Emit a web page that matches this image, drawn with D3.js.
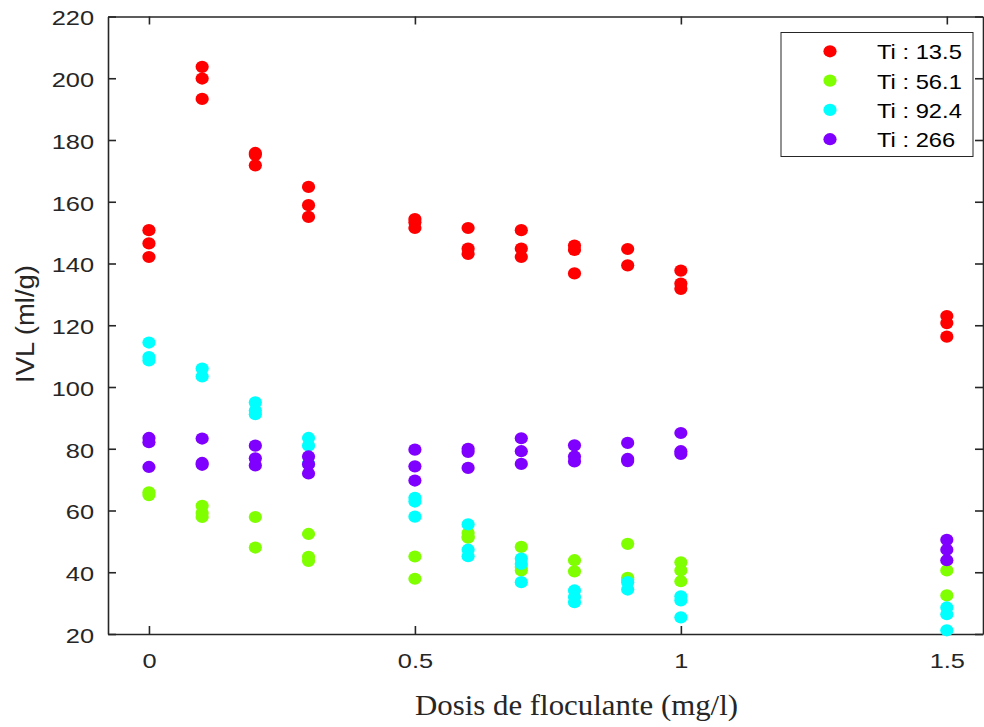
<!DOCTYPE html>
<html><head><meta charset="utf-8">
<script src="https://cdn.jsdelivr.net/npm/d3@7"></script>
<style>body{margin:0;background:#fff}</style>
</head><body>
<svg id="c" width="984" height="727"></svg>
<script>
const doses = [0, 0.1, 0.2, 0.3, 0.5, 0.6, 0.7, 0.8, 0.9, 1.0, 1.5];
const seriesNames = ["Ti : 13.5", "Ti : 56.1", "Ti : 92.4", "Ti : 266"];
const seriesColors = ["#ff0000", "#80ff00", "#00ffff", "#8000ff"];
const ti13 = [[150.8,146.5,142.1],[203.7,199.9,193.3],[175.8,175.2,171.8],[164.8,158.9,155.1],[154.4,153.4,151.5],[151.5,144.8,143.1],[150.8,144.8,142.1],[145.8,144.4,136.8],[144.7,139.4],[137.7,133.5,131.8],[123,120.7,116.3]];
const ti56 = [[65.9,65.0],[61.5,59.2,57.9],[57.9,48.0],[52.4,45.0,43.7],[45.1,37.9],[52.7,51.5,51.2],[48.2,41.7,40.6],[43.9,40.3],[49.2,38.2,37.6],[43.2,40.6,37.1],[40.6,32.5]];
const ti92 = [[114.4,109.7,108.6],[106.0,103.4],[95.0,92.4,91.2],[83.5,81.0,75.2],[64.1,62.9,58.0],[55.5,47.3,45.2],[44.4,42.7,36.8],[34.1,32.0,30.3],[36.8,34.4],[32.2,30.9,25.4],[28.6,26.4,21.2]];
const ti266 = [[83.5,82.1,74.1],[83.3,75.4,74.8],[81.0,76.9,74.6],[77.5,75.0,72.0],[79.7,74.3,69.7],[80.0,79.0,73.8],[83.4,79.2,75.1],[81.1,77.5,75.9],[81.9,76.7,76.0],[85.1,79.2,78.3],[50.5,47.3,43.9]];
const xTicks = [0, 0.5, 1, 1.5];
const yTicks = [20,40,60,80,100,120,140,160,180,200,220];

const allSeries = [ti13, ti56, ti92, ti266];
const svg = d3.select("#c");
const L = 108, R = 983, T = 16.5, B = 634;
const x = d3.scaleLinear().domain([-0.077, 1.568]).range([L, R]);
const y = d3.scaleLinear().domain([20, 220]).range([B, T]);
const axisColor = "#262626";
const tickFont = "'Liberation Sans', Arial, sans-serif";

function stretch(sel, f) {
  sel.each(function() {
    const w = this.getComputedTextLength();
    if (w > 0) d3.select(this).attr("textLength", w * f).attr("lengthAdjust", "spacingAndGlyphs");
  });
}

// axes
const gB = svg.append("g").attr("transform", `translate(0,${B})`)
  .call(d3.axisBottom(x).tickValues(xTicks).tickFormat(d3.format("")).tickSizeInner(-8).tickSizeOuter(0).tickPadding(20));
const gT = svg.append("g").attr("transform", `translate(0,${T})`)
  .call(d3.axisTop(x).tickValues(xTicks).tickFormat("").tickSizeInner(-8).tickSizeOuter(0));
const gL = svg.append("g").attr("transform", `translate(${L},0)`)
  .call(d3.axisLeft(y).tickValues(yTicks).tickSizeInner(-8).tickSizeOuter(0).tickPadding(14));
const gR = svg.append("g").attr("transform", `translate(${R},0)`)
  .call(d3.axisRight(y).tickValues(yTicks).tickFormat("").tickSizeInner(-8).tickSizeOuter(0));
[gB, gT, gL, gR].forEach(g => {
  g.selectAll("path").attr("stroke", axisColor).attr("stroke-width", 1.6);
  g.selectAll("line").attr("stroke", axisColor).attr("stroke-width", 1.6);
  g.selectAll("text").attr("fill", "#262626").style("font-family", tickFont).style("font-size", "20px");
});
gL.selectAll("text").attr("dy", "0.42em");
stretch(gL.selectAll("text"), 1.27);
stretch(gB.selectAll("text"), 1.27);

// points
allSeries.forEach((s, si) => {
  const pts = [];
  s.forEach((vals, di) => vals.forEach(v => pts.push([doses[di], v])));
  svg.append("g").selectAll("ellipse").data(pts).join("ellipse")
    .attr("cx", d => x(d[0])).attr("cy", d => y(d[1]))
    .attr("rx", 6.6).attr("ry", 6.1)
    .attr("fill", seriesColors[si]);
});

// axis labels
const xl = svg.append("text").attr("x", 576.5).attr("y", 715).attr("text-anchor", "middle")
  .style("font-family", "'Liberation Serif', 'Times New Roman', serif").style("font-size", "29.5px")
  .attr("fill", "#262626").text("Dosis de floculante (mg/l)");
xl.attr("textLength", 323).attr("lengthAdjust", "spacingAndGlyphs");
const yl = svg.append("text").attr("transform", "translate(33.5,324) rotate(-90)").attr("text-anchor", "middle")
  .style("font-family", tickFont).style("font-size", "25px")
  .attr("fill", "#262626").text("IVL (ml/g)");
yl.attr("textLength", 118).attr("lengthAdjust", "spacingAndGlyphs");

// legend
const lg = svg.append("g");
lg.append("rect").attr("x", 781).attr("y", 32.5).attr("width", 192).attr("height", 124)
  .attr("fill", "#fff").attr("stroke", axisColor).attr("stroke-width", 1);
seriesNames.forEach((n, i) => {
  const cy = 51.3 + i * 29.3;
  lg.append("ellipse").attr("cx", 830).attr("cy", cy).attr("rx", 6.6).attr("ry", 6.1).attr("fill", seriesColors[i]);
  const t = lg.append("text").attr("x", 877).attr("y", cy + 8)
    .style("font-family", tickFont).style("font-size", "21px").attr("fill", "#000").text(n);
  stretch(t, 1.13);
});
</script>
</body></html>
